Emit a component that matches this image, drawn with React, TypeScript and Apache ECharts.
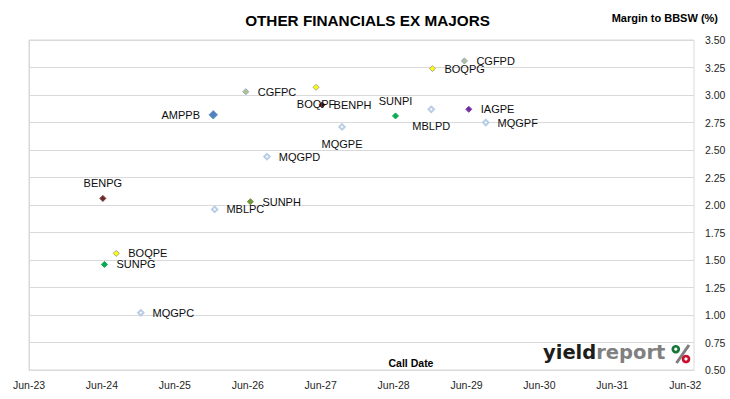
import React, { useEffect, useRef } from 'react';
import * as echarts from 'echarts';

// ---- data ----
const codes = [
  'AMPPB', 'BENPG', 'BENPH', 'BOQPE', 'BOQPF', 'BOQPG', 'CGFPC', 'CGFPD', 'IAGPE',
  'MBLPC', 'MBLPD', 'MQGPC', 'MQGPD', 'MQGPE', 'MQGPF', 'SUNPG', 'SUNPH', 'SUNPI',
];
const callDates = [
  '2025-12-10', '2024-06-05', '2027-06-08', '2024-08-11', '2027-05-09', '2028-12-12',
  '2026-05-22', '2029-05-21', '2029-06-12', '2025-12-17', '2028-12-06', '2024-12-12',
  '2026-09-05', '2027-09-16', '2029-09-05', '2024-06-13', '2026-06-14', '2028-06-10',
];
const margins = [
  2.82, 2.06, 2.91, 1.56, 3.07, 3.24, 3.03, 3.31, 2.87,
  1.96, 2.87, 1.02, 2.44, 2.71, 2.75, 1.46, 2.03, 2.81,
];
const xTickLabels = ['Jun-23', 'Jun-24', 'Jun-25', 'Jun-26', 'Jun-27', 'Jun-28', 'Jun-29', 'Jun-30', 'Jun-31', 'Jun-32'];
const yMin = 0.5;
const yMax = 3.5;
const yStep = 0.25;
const xMaxYears = 9.12;

const titleText = 'OTHER FINANCIALS EX MAJORS';
const yAxisTitle = 'Margin to BBSW (%)';
const xAxisTitle = 'Call Date';

// ---- styles ----
const AXIS_START = Date.UTC(2023, 5, 1);
const YEAR_MS = 365.25 * 86400000;
const toYears = (s: string) => {
  const [y, m, d] = s.split('-').map(Number);
  return (Date.UTC(y, m - 1, d) - AXIS_START) / YEAR_MS;
};

type MStyle = { fill: string; stroke: string; size: number; bw: number };
const styleYellow: MStyle = { fill: '#ffff00', stroke: '#a6a68a', size: 6, bw: 1 };
const styleCGF: MStyle = { fill: '#b2c38e', stroke: '#8fa7bf', size: 6, bw: 1 };
const styleBEN: MStyle = { fill: '#6b2a28', stroke: '#7a3634', size: 6, bw: 1 };
const styleHollow: MStyle = { fill: '#ffffff', stroke: '#b9cde5', size: 5.5, bw: 2 };
const styleSun: MStyle = { fill: '#00b050', stroke: '#1aa550', size: 6, bw: 1 };
const styleSunH: MStyle = { fill: '#77933c', stroke: '#6f8f3a', size: 6, bw: 1 };
const styleIAG: MStyle = { fill: '#7030a0', stroke: '#7a3aa8', size: 6, bw: 1 };
const styleAMP: MStyle = { fill: '#4f81bd', stroke: '#6f95c8', size: 8.5, bw: 1 };

const markerStyle: Record<string, MStyle> = {
  AMPPB: styleAMP, BENPG: styleBEN, BENPH: styleBEN, BOQPE: styleYellow, BOQPF: styleYellow,
  BOQPG: styleYellow, CGFPC: styleCGF, CGFPD: styleCGF, IAGPE: styleIAG, MBLPC: styleHollow,
  MBLPD: styleHollow, MQGPC: styleHollow, MQGPD: styleHollow, MQGPE: styleHollow,
  MQGPF: styleHollow, SUNPG: styleSun, SUNPH: styleSunH, SUNPI: styleSun,
};
const labelPos: Record<string, [string, number]> = {
  AMPPB: ['left', 8.5], BENPG: ['top', 6], BENPH: ['right', 8], BOQPE: ['right', 8.5],
  BOQPF: ['bottom', 8], BOQPG: ['right', 8.5], CGFPC: ['right', 8.5], CGFPD: ['right', 8.5],
  IAGPE: ['right', 8.5], MBLPC: ['right', 8], MBLPD: ['bottom', 7.5], MQGPC: ['right', 8],
  MQGPD: ['right', 8], MQGPE: ['bottom', 7.5], MQGPF: ['right', 8], SUNPG: ['right', 8.5],
  SUNPH: ['right', 8.5], SUNPI: ['top', 6],
};

const FONT = "'Liberation Sans', Arial, sans-serif";

export default function App() {
  const ref = useRef<HTMLDivElement>(null);
  useEffect(() => {
    document.body.style.margin = '0';
    if (!ref.current) return;
    const chart = echarts.init(ref.current, undefined, { renderer: 'svg' });
    const data = codes.map((c, i) => {
      const st = markerStyle[c];
      const [pos, dist] = labelPos[c];
      return {
        name: c,
        value: [toYears(callDates[i]), margins[i]],
        symbolSize: st.size,
        itemStyle: { color: st.fill, borderColor: st.stroke, borderWidth: st.bw, opacity: 1 },
        label: { position: pos, distance: dist },
      };
    });
    chart.setOption({
      animation: false,
      backgroundColor: '#ffffff',
      grid: { left: 29, right: 36, top: 40, bottom: 29, show: true, borderColor: '#d9d9d9', borderWidth: 1, backgroundColor: 'transparent' },
      xAxis: {
        type: 'value',
        min: 0,
        max: xMaxYears,
        interval: 1,
        axisLine: { show: true, lineStyle: { color: '#d9d9d9' } },
        axisTick: { show: false },
        splitLine: { show: false },
        axisLabel: {
          margin: 9,
          fontSize: 10.5,
          color: '#262626',
          fontFamily: FONT,
          showMaxLabel: true,
          formatter: (v: number) => {
            const i = Math.round(v);
            return Math.abs(v - i) < 1e-6 && xTickLabels[i] ? xTickLabels[i] : '';
          },
        },
      },
      yAxis: {
        type: 'value',
        position: 'right',
        min: yMin,
        max: yMax,
        interval: yStep,
        axisLine: { show: true, lineStyle: { color: '#d9d9d9' } },
        axisTick: { show: true, length: 5, lineStyle: { color: '#d9d9d9' } },
        splitLine: { show: true, lineStyle: { color: '#d9d9d9' } },
        axisLabel: {
          margin: 11,
          fontSize: 10.5,
          color: '#262626',
          fontFamily: FONT,
          formatter: (v: number) => v.toFixed(2),
        },
      },
      series: [
        {
          type: 'scatter',
          symbol: 'diamond',
          data,
          label: {
            show: true,
            formatter: '{b}',
            fontSize: 11,
            color: '#0d0d0d',
            fontFamily: FONT,
          },
          emphasis: { disabled: true },
        },
      ],
      graphic: [
        {
          type: 'text', x: 367.5, y: 20, silent: true,
          style: { text: titleText, fill: '#000', fontSize: 15.3, fontWeight: 'bold', fontFamily: FONT, align: 'center', verticalAlign: 'middle' },
        },
        {
          type: 'text', x: 718, y: 17.5, silent: true,
          style: { text: yAxisTitle, fill: '#000', fontSize: 11, fontWeight: 'bold', fontFamily: FONT, align: 'right', verticalAlign: 'middle' },
        },
        {
          type: 'text', x: 411, y: 363, silent: true,
          style: { text: xAxisTitle, fill: '#000', fontSize: 10.5, fontWeight: 'bold', fontFamily: FONT, align: 'center', verticalAlign: 'middle' },
        },
        {
          type: 'text', x: 543, y: 352.5, silent: true,
          style: {
            text: '{a|yield}{b|report}',
            fontFamily: "'DejaVu Sans', sans-serif",
            fontSize: 19.5,
            fontWeight: 'bold',
            align: 'left',
            verticalAlign: 'middle',
            rich: {
              a: { fill: '#1d1d1b', fontSize: 19.5, fontWeight: 'bold', fontFamily: "'DejaVu Sans', sans-serif" },
              b: { fill: '#808080', fontSize: 19.5, fontWeight: 'bold', fontFamily: "'DejaVu Sans', sans-serif" },
            },
          },
        },
        {
          type: 'line', silent: true,
          shape: { x1: 689, y1: 345, x2: 676.5, y2: 363 },
          style: { stroke: '#7f7f7f', lineWidth: 3 },
        },
        {
          type: 'ring', silent: true,
          shape: { cx: 675.8, cy: 349.2, r: 4.3, r0: 1.6 },
          style: { fill: '#17763a' },
        },
        {
          type: 'ring', silent: true,
          shape: { cx: 686, cy: 359, r: 4.3, r0: 1.6 },
          style: { fill: '#c8102e' },
        },
      ],
    });
    return () => chart.dispose();
  }, []);
  return <div ref={ref} style={{ width: 730, height: 399 }} />;
}
